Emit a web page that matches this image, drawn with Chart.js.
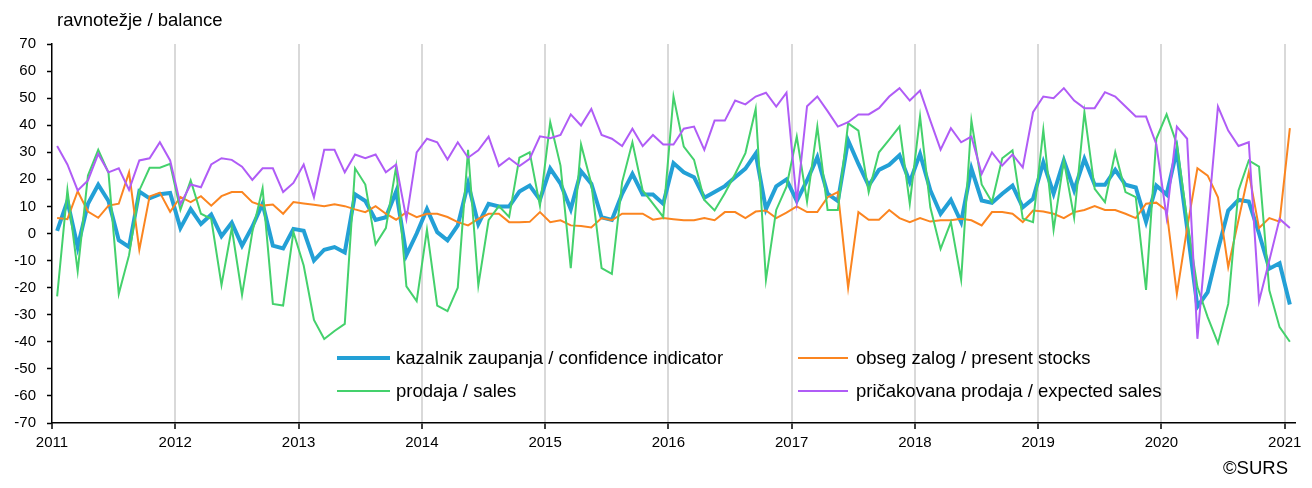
<!DOCTYPE html>
<html>
<head>
<meta charset="utf-8">
<script src="https://cdn.jsdelivr.net/npm/chart.js@4.4.1/dist/chart.umd.min.js"></script>
<style>
  html, body { margin: 0; padding: 0; background: #ffffff; }
  #wrap { position: relative; width: 1312px; height: 488px; }
  canvas { display: block; }
</style>
</head>
<body>
<div id="wrap"><canvas id="c" width="1312" height="488"></canvas></div>
<script>
// ---- data (monthly, Jan 2011 .. Jan 2021) ----
const xTickLabels = ['2011','2012','2013','2014','2015','2016','2017','2018','2019','2020','2021'];
const yTickValues = [70, 60, 50, 40, 30, 20, 10, 0, -10, -20, -30, -40, -50, -60, -70];

const seriesLabels = [
  'kazalnik zaupanja / confidence indicator',
  'obseg zalog / present stocks',
  'prodaja / sales',
  'pričakovana prodaja / expected sales'
];

const confidence = [
  1, 12, -5, 11, 18, 12, -2.5, -5, 15.5, 13, 14.5, 15,
  2, 9, 3.5, 7, -1, 4, -4.5, 2.5, 11, -4.5, -5.5, 1.7,
  1, -10, -6, -5, -7, 14.5, 12, 5, 6, 15.5, -8, 0,
  9, 0.5, -2.5, 3, 18.5, 3.5, 11, 10, 10, 15.5, 17.7, 12.5,
  24, 18.4, 9, 23, 18.4, 6, 5, 14.7, 22, 14.4, 14.4, 11,
  26, 22.6, 20.8, 13.2, 15.3, 17.5, 20.8, 24, 29.5, 9, 17.4, 20,
  12, 19.6, 28.2, 14.7, 12, 34.4, 25.7, 17.7, 23.5, 25.4, 28.9, 19,
  29.4, 16, 7.3, 12.4, 4.2, 24, 12.2, 11.3, 14.7, 17.7, 9.7, 12.8,
  26.3, 14.7, 27, 16, 27.6, 18, 18, 23.5, 18, 17, 4.3, 17.7,
  14.4, 30.7, 2, -27, -21.7, -6, 8.5, 12.4, 11.8, 0, -13, -11,
  -26.2
];

const stocks = [
  5.7, 5.3, 15.6, 8.1, 5.8, 10.3, 11, 22.6, -6, 13.7, 15.1, 8,
  13.5, 11.6, 13.8, 10.3, 13.8, 15.3, 15.3, 11.6, 10.3, 10.7, 7.3, 11.6,
  11.1, 10.6, 10.1, 10.8, 10.1, 8.9, 7.9, 10.1, 7.3, 5.1, 7.9, 6,
  7.3, 7.3, 6.1, 4.2, 3, 5.4, 7.3, 7.3, 4.2, 4.2, 4.3, 7.9,
  4.2, 4.9, 3, 2.8, 2.2, 5.7, 4.9, 7.3, 7.3, 7.3, 5.1, 5.7,
  5.3, 4.9, 4.9, 5.7, 4.9, 7.9, 7.9, 5.7, 8.1, 8.5, 5.7, 7.7,
  10, 7.9, 7.9, 13.4, 15.3, -20, 7.9, 5.1, 5.1, 8.7, 5.7, 4.2,
  5.7, 4.4, 4.9, 4.9, 5.4, 4.9, 3, 7.9, 7.9, 7.3, 4.2, 8.5,
  8.1, 7.3, 5.7, 7.9, 8.7, 10.1, 8.7, 8.7, 7.3, 5.7, 11, 11.4,
  8.5, -22.3, 2, 24.1, 21.4, 13.4, -12.4, 5, 22.6, 2, 5.7, 4.4,
  38.9
];

const sales = [
  -23.2, 16.1, -13.9, 21.4, 30.9, 22.4, -22.3, -8, 15.9, 24.3, 24.3, 25.7,
  8.7, 19.6, 7.3, 5.4, -19, 2, -22.7, 0.5, 16.7, -26, -26.6, 0.5,
  -11.8, -31.9, -39, -36, -33.4, 24.1, 18.1, -4, 2, 24.7, -19.5, -25,
  1.4, -26.6, -28.7, -20, 30.9, -19.2, 4.9, 10.1, 6.1, 28, 30, 10.2,
  41.1, 25.1, -12.8, 32.9, 18.4, -12.8, -14.9, 19, 33.7, 15.9, 11, 6.1,
  50.6, 32.1, 27.2, 12.4, 8.5, 14.9, 22, 29.7, 46, -17.1, 8.7, 17.3,
  35.8, 11.8, 39.5, 8.7, 8.7, 40.7, 38, 15.3, 30, 34.7, 39.5, 11,
  43.2, 9.7, -5.7, 4.2, -17.1, 41.7, 18.1, 11.6, 27.8, 30.7, 5.5, 4.2,
  38.3, 1.4, 27, 5.8, 44.8, 16.5, 11.6, 30, 15.3, 13.4, -20.8, 35,
  44, 33, 5, -19.8, -30.9, -40.5, -26, 15.9, 27, 24.7, -21, -34.6,
  -40
];

const expectedSales = [
  32.3, 25.5, 15.9, 19.6, 29.4, 22.6, 24.1, 16.1, 27, 27.8, 33.7, 27,
  10.8, 18.1, 17.1, 25.5, 27.8, 27.2, 24.7, 19.8, 24.1, 24.1, 15.3, 18.7,
  25.5, 13.4, 30.9, 30.9, 22.6, 29.2, 27.8, 29.2, 22.6, 25.5, 5.4, 30,
  35, 33.7, 27.3, 33.7, 28, 30.7, 35.8, 24.9, 27.8, 24.9, 27.6, 35.9,
  35.2, 36.4, 44, 39.9, 46, 36.4, 35, 32.3, 38.7, 32.3, 36.4, 32.9,
  32.9, 38.7, 39.5, 30.9, 41.7, 41.7, 49.1, 47.7, 50.6, 52, 46.9, 52,
  11.6, 47, 50.6, 45.2, 39.5, 41.1, 44, 44, 46.3, 50.6, 53.7, 49.1,
  52.8, 41.7, 31, 38.9, 33.7, 35.8, 22, 30, 25.1, 29.2, 24.4, 44.8,
  50.6, 50, 53.7, 49.1, 46.3, 46.3, 52.2, 50.6, 46.9, 43.2, 43.2, 33,
  6, 39.5, 35, -38.9, 4, 46.9, 38, 32.3, 33.7, -25, -10, 5.4,
  2
];

const titleText = 'ravnotežje / balance';
const sourceText = '©SURS';

// ---- chart ----
const FONT = '"Liberation Sans", Arial, sans-serif';
const toPoints = arr => arr.map((v, i) => ({ x: i + 0.5, y: v }));

const overlay = {
  id: 'overlay',
  afterDraw(chart) {
    const ctx = chart.ctx;
    ctx.save();
    ctx.font = '18.5px ' + FONT;
    ctx.fillStyle = '#000';
    ctx.textBaseline = 'middle';
    ctx.textAlign = 'left';
    ctx.fillText(titleText, 57, 21);
    ctx.textAlign = 'right';
    ctx.fillText(sourceText, 1288, 469);
    const samples = [[337, 390, 358], [798, 848, 358], [337, 390, 391], [798, 848, 391]];
    const textX = [396, 856, 396, 856];
    chart.data.datasets.forEach((ds, k) => {
      const [x0, x1, y] = samples[k];
      ctx.strokeStyle = ds.borderColor;
      ctx.lineWidth = ds.borderWidth;
      ctx.lineCap = 'butt';
      ctx.beginPath();
      ctx.moveTo(x0, y);
      ctx.lineTo(x1, y);
      ctx.stroke();
      ctx.textAlign = 'left';
      ctx.fillStyle = '#000';
      ctx.fillText(ds.label, textX[k], y + 1);
    });
    ctx.restore();
  }
};

new Chart(document.getElementById('c'), {
  type: 'line',
  data: {
    datasets: [
      { label: seriesLabels[0], data: toPoints(confidence), borderColor: '#23a0d6', borderWidth: 4, order: 4 },
      { label: seriesLabels[1], data: toPoints(stocks), borderColor: '#fb8520', borderWidth: 2, order: 3 },
      { label: seriesLabels[2], data: toPoints(sales), borderColor: '#44d16c', borderWidth: 2, order: 2 },
      { label: seriesLabels[3], data: toPoints(expectedSales), borderColor: '#b05cf6', borderWidth: 2, order: 1 }
    ]
  },
  options: {
    responsive: false,
    animation: false,
    devicePixelRatio: 1,
    layout: { padding: { left: 0, right: 17, top: 44, bottom: 0 } },
    elements: {
      point: { radius: 0, hoverRadius: 0 },
      line: { tension: 0, fill: false, borderJoinStyle: 'miter' }
    },
    plugins: {
      legend: { display: false },
      title: { display: false },
      tooltip: { enabled: false }
    },
    scales: {
      x: {
        type: 'linear',
        min: 0,
        max: 121,
        afterBuildTicks(scale) {
          scale.ticks = xTickLabels.map((_, k) => ({ value: k * 12 }));
        },
        afterFit(scale) { scale.height = 65; },
        ticks: {
          autoSkip: false,
          maxRotation: 0,
          padding: 5,
          color: '#000',
          font: { family: FONT, size: 15 },
          callback: (v, idx) => xTickLabels[idx]
        },
        grid: {
          color: ctx => (ctx.tick && ctx.tick.value === 0) ? 'rgba(0,0,0,0)' : '#d9d9d9',
          lineWidth: 2,
          drawTicks: true,
          tickLength: 6,
          tickColor: '#000',
          tickWidth: 1.5
        },
        border: { display: true, color: '#000', width: 1.5 }
      },
      y: {
        min: -70,
        max: 70,
        afterBuildTicks(scale) {
          scale.ticks = yTickValues.map(v => ({ value: v }));
        },
        afterFit(scale) { scale.width = 52; },
        ticks: {
          padding: 11,
          color: '#000',
          font: { family: FONT, size: 15 },
          callback: v => String(v)
        },
        grid: {
          drawOnChartArea: false,
          drawTicks: true,
          tickLength: 5,
          tickColor: '#000',
          tickWidth: 1.5
        },
        border: { display: true, color: '#000', width: 1.5 }
      }
    }
  },
  plugins: [overlay]
});
</script>
</body>
</html>
